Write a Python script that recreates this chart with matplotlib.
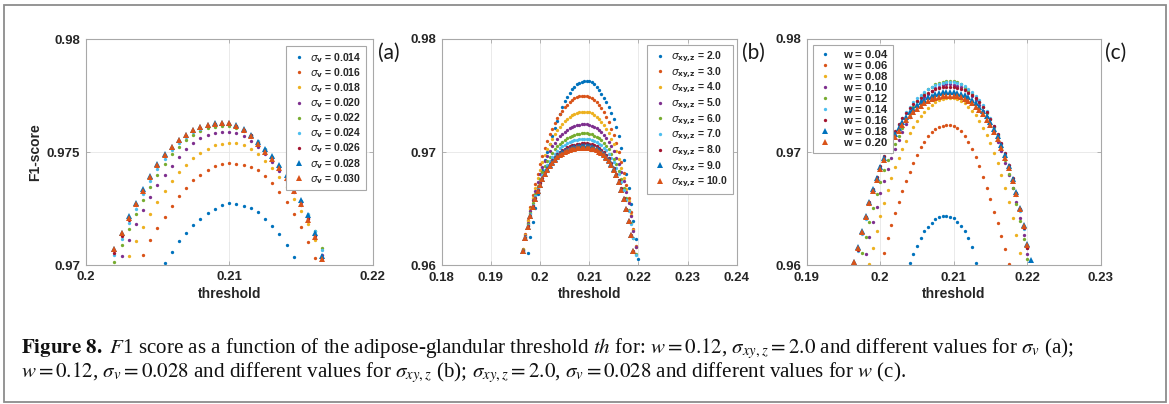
import numpy as np
import matplotlib
matplotlib.use("Agg")
import matplotlib.pyplot as plt
from matplotlib.patches import Rectangle

nan = float("nan")

# ---------------- data ----------------
# panel (a): w = 0.12, sigma_xy,z = 2.0, different sigma_v
threshold_a = [0.2020, 0.2025, 0.2030, 0.2035, 0.2040, 0.2045, 0.2050, 0.2055, 0.2060, 0.2065,
               0.2070, 0.2075, 0.2080, 0.2085, 0.2090, 0.2095, 0.2100, 0.2105, 0.2110, 0.2115,
               0.2120, 0.2125, 0.2130, 0.2135, 0.2140, 0.2145, 0.2150, 0.2155, 0.2160, 0.2165]
labels_a = ["0.014", "0.016", "0.018", "0.020", "0.022", "0.024", "0.026", "0.028", "0.030"]
f1_a_sv014 = [nan] * 7 + [0.97009, 0.97059, 0.97105, 0.97142, 0.97176, 0.97206, 0.97230, 0.97250, 0.97265,
                          0.97275, 0.97271, 0.97263, 0.97251, 0.97234, 0.97206, 0.97175, 0.97136, 0.97089,
                          0.97036] + [nan] * 4
f1_a_sv016 = [nan] * 4 + [0.97044, 0.97111, 0.97163, 0.97214, 0.97260, 0.97305, 0.97343, 0.97377, 0.97400,
                          0.97422, 0.97437, 0.97447, 0.97450, 0.97448, 0.97445, 0.97436, 0.97420, 0.97396,
                          0.97364, 0.97325, 0.97281, 0.97228, 0.97170, 0.97104, 0.97033] + [nan]
f1_a_sv018 = [nan] * 2 + [0.97040, 0.97108, 0.97170, 0.97228, 0.97280, 0.97328, 0.97372, 0.97410, 0.97445,
                          0.97474, 0.97497, 0.97516, 0.97530, 0.97538, 0.97541, 0.97540, 0.97532, 0.97516,
                          0.97492, 0.97462, 0.97428, 0.97388, 0.97345, 0.97294, 0.97240, 0.97180, 0.97110,
                          0.97030]
f1_a_sv020 = [nan] + [0.97040, 0.97112, 0.97180, 0.97244, 0.97302, 0.97354, 0.97400, 0.97440, 0.97478,
                      0.97512, 0.97540, 0.97562, 0.97577, 0.97586, 0.97589, 0.97589, 0.97584, 0.97570,
                      0.97548, 0.97522, 0.97490, 0.97455, 0.97415, 0.97372, 0.97322, 0.97268, 0.97205,
                      0.97132, 0.97045]
f1_a_sv022 = [0.97015, 0.97090, 0.97160, 0.97225, 0.97290, 0.97345, 0.97400, 0.97448, 0.97490, 0.97525,
              0.97553, 0.97577, 0.97594, 0.97605, 0.97612, 0.97615, 0.97614, 0.97608, 0.97595, 0.97574,
              0.97545, 0.97512, 0.97478, 0.97438, 0.97392, 0.97340, 0.97282, 0.97222, 0.97150, 0.97075]
f1_a_sv024 = [0.97045, 0.97115, 0.97185, 0.97250, 0.97315, 0.97372, 0.97425, 0.97470, 0.97508, 0.97540,
              0.97565, 0.97588, 0.97603, 0.97614, 0.97620, 0.97624, 0.97623, 0.97615, 0.97600, 0.97578,
              0.97548, 0.97515, 0.97480, 0.97440, 0.97395, 0.97340, 0.97285, 0.97225, 0.97150, 0.97065]
f1_a_sv026 = [0.97055, 0.97130, 0.97200, 0.97265, 0.97325, 0.97385, 0.97440, 0.97482, 0.97518, 0.97548,
              0.97572, 0.97593, 0.97607, 0.97617, 0.97623, 0.97626, 0.97625, 0.97616, 0.97598, 0.97574,
              0.97541, 0.97505, 0.97475, 0.97436, 0.97390, 0.97335, 0.97278, 0.97208, 0.97130, 0.97030]
f1_a_sv028 = [0.97070, 0.97140, 0.97215, 0.97275, 0.97335, 0.97395, 0.97448, 0.97490, 0.97524, 0.97555,
              0.97578, 0.97600, 0.97613, 0.97622, 0.97628, 0.97631, 0.97630, 0.97620, 0.97602, 0.97578,
              0.97545, 0.97512, 0.97482, 0.97445, 0.97400, 0.97345, 0.97290, 0.97220, 0.97140, 0.97040]
f1_a_sv030 = [0.97070, 0.97140, 0.97210, 0.97270, 0.97330, 0.97390, 0.97445, 0.97488, 0.97522, 0.97553,
              0.97576, 0.97598, 0.97611, 0.97620, 0.97626, 0.97630, 0.97628, 0.97615, 0.97596, 0.97570,
              0.97538, 0.97502, 0.97470, 0.97430, 0.97385, 0.97328, 0.97270, 0.97200, 0.97125, 0.97025]

# panels (b) and (c) share the threshold grid
threshold_bc = [0.1960, 0.1965, 0.1970, 0.1975, 0.1980, 0.1985, 0.1990, 0.1995, 0.2000, 0.2005,
                0.2010, 0.2015, 0.2020, 0.2025, 0.2030, 0.2035, 0.2040, 0.2045, 0.2050, 0.2055,
                0.2060, 0.2065, 0.2070, 0.2075, 0.2080, 0.2085, 0.2090, 0.2095, 0.2100, 0.2105,
                0.2110, 0.2115, 0.2120, 0.2125, 0.2130, 0.2135, 0.2140, 0.2145, 0.2150, 0.2155,
                0.2160, 0.2165, 0.2170, 0.2175, 0.2180, 0.2185, 0.2190, 0.2195, 0.2200, 0.2205]
# w = 0.12, sigma_xy,z = 2.0, sigma_v = 0.028 (common curve of the three panels)
f1_base = [nan, nan, nan, 0.9611, 0.9625, 0.9638, 0.9651, 0.9663, 0.9674, 0.9684, 0.9693, 0.9700,
           0.97070, 0.97140, 0.97215, 0.97275, 0.97335, 0.97395, 0.97448, 0.97490, 0.97524, 0.97555,
           0.97578, 0.97600, 0.97613, 0.97622, 0.97628, 0.97631, 0.97630, 0.97620, 0.97602, 0.97578,
           0.97545, 0.97512, 0.97482, 0.97445, 0.97400, 0.97345, 0.97290, 0.97220, 0.97140, 0.97040,
           0.9693, 0.9681, 0.9668, 0.9654, 0.9639, 0.9623, 0.9606, nan]

# panel (b): w = 0.12, sigma_v = 0.028, different sigma_xy,z
labels_b = ["2.0", "3.0", "4.0", "5.0", "6.0", "7.0", "8.0", "9.0", "10.0"]
f1_b_sxy20 = f1_base
f1_b_sxy30 = [nan, 0.96145, 0.96279, 0.96403, 0.96518, 0.96623, 0.96721, 0.96811, 0.96893, 0.96969,
              0.97038, 0.97101, 0.97158, 0.97209, 0.97256, 0.97298, 0.97335, 0.97368, 0.97397, 0.97421,
              0.97443, 0.97460, 0.97475, 0.97486, 0.97494, 0.97498, 0.97500,
              0.97498, 0.97491, 0.97480, 0.97465, 0.97445, 0.97419, 0.97389, 0.97353, 0.97312, 0.97264,
              0.97209, 0.97148, 0.97079, 0.97001, 0.96915, 0.96819, 0.96713, 0.96596, 0.96467, 0.96325,
              0.96170, nan, nan]
f1_b_sxy40 = [nan, 0.96140, 0.96269, 0.96388, 0.96496, 0.96595, 0.96686, 0.96768, 0.96843, 0.96910,
              0.96972, 0.97027, 0.97076, 0.97120, 0.97160, 0.97195, 0.97226, 0.97252, 0.97276, 0.97296,
              0.97313, 0.97327, 0.97338, 0.97347, 0.97353, 0.97357, 0.97358,
              0.97356, 0.97351, 0.97343, 0.97330, 0.97314, 0.97294, 0.97270, 0.97241, 0.97206, 0.97166,
              0.97120, 0.97068, 0.97007, 0.96939, 0.96862, 0.96775, 0.96678, 0.96569, 0.96448, 0.96314,
              0.96165, nan, nan]
f1_b_sxy50 = [nan, 0.96137, 0.96263, 0.96377, 0.96481, 0.96574, 0.96659, 0.96736, 0.96804, 0.96866,
              0.96921, 0.96970, 0.97013, 0.97051, 0.97085, 0.97115, 0.97140, 0.97162, 0.97181, 0.97197,
              0.97211, 0.97222, 0.97231, 0.97238, 0.97242, 0.97245, 0.97246,
              0.97245, 0.97241, 0.97234, 0.97225, 0.97212, 0.97196, 0.97177, 0.97153, 0.97124, 0.97091,
              0.97051, 0.97006, 0.96952, 0.96892, 0.96822, 0.96742, 0.96652, 0.96550, 0.96435, 0.96306,
              0.96161, nan, nan]
f1_b_sxy60 = [nan, 0.96133, 0.96253, 0.96363, 0.96462, 0.96551, 0.96631, 0.96703, 0.96767, 0.96825,
              0.96875, 0.96920, 0.96960, 0.96995, 0.97025, 0.97052, 0.97074, 0.97094, 0.97111, 0.97125,
              0.97136, 0.97146, 0.97153, 0.97159, 0.97163, 0.97165, 0.97166,
              0.97165, 0.97161, 0.97156, 0.97147, 0.97136, 0.97122, 0.97104, 0.97082, 0.97056, 0.97024,
              0.96987, 0.96943, 0.96892, 0.96832, 0.96764, 0.96685, 0.96595, 0.96492, 0.96376, 0.96245,
              0.96097, nan, nan]
f1_b_sxy70 = [nan, 0.96129, 0.96247, 0.96353, 0.96449, 0.96535, 0.96612, 0.96681, 0.96743, 0.96797,
              0.96846, 0.96888, 0.96926, 0.96958, 0.96987, 0.97011, 0.97033, 0.97051, 0.97066, 0.97079,
              0.97089, 0.97098, 0.97105, 0.97110, 0.97113, 0.97115, 0.97116,
              0.97115, 0.97112, 0.97107, 0.97099, 0.97089, 0.97076, 0.97060, 0.97040, 0.97015, 0.96986,
              0.96951, 0.96910, 0.96861, 0.96805, 0.96739, 0.96664, 0.96577, 0.96478, 0.96366, 0.96238,
              0.96095, nan, nan]
f1_b_sxy80 = [nan, 0.96126, 0.96241, 0.96345, 0.96438, 0.96521, 0.96596, 0.96663, 0.96723, 0.96775,
              0.96822, 0.96863, 0.96899, 0.96930, 0.96957, 0.96980, 0.97000, 0.97017, 0.97031, 0.97043,
              0.97053, 0.97061, 0.97067, 0.97072, 0.97075, 0.97077, 0.97078,
              0.97077, 0.97074, 0.97069, 0.97061, 0.97051, 0.97038, 0.97021, 0.97000, 0.96975, 0.96944,
              0.96907, 0.96863, 0.96811, 0.96750, 0.96679, 0.96596, 0.96501, 0.96392, 0.96268, 0.96126,
              nan, nan, nan]
f1_b_sxy90 = [nan, 0.96125, 0.96238, 0.96340, 0.96432, 0.96515, 0.96588, 0.96654, 0.96712, 0.96763,
              0.96809, 0.96848, 0.96883, 0.96913, 0.96939, 0.96962, 0.96980, 0.96997, 0.97010, 0.97021,
              0.97031, 0.97038, 0.97044, 0.97049, 0.97052, 0.97053, 0.97054,
              0.97053, 0.97050, 0.97045, 0.97038, 0.97029, 0.97016, 0.97000, 0.96980, 0.96956, 0.96927,
              0.96891, 0.96848, 0.96798, 0.96739, 0.96669, 0.96588, 0.96495, 0.96388, 0.96265, 0.96125,
              nan, nan, nan]
f1_b_sxy100 = [nan, 0.96126, 0.96239, 0.96341, 0.96433, 0.96515, 0.96588, 0.96653, 0.96710, 0.96761,
               0.96805, 0.96844, 0.96878, 0.96907, 0.96932, 0.96953, 0.96971, 0.96987, 0.96999, 0.97010,
               0.97019, 0.97026, 0.97031, 0.97035, 0.97038, 0.97039, 0.97040,
               0.97039, 0.97037, 0.97032, 0.97026, 0.97017, 0.97005, 0.96990, 0.96971, 0.96948, 0.96920,
               0.96885, 0.96844, 0.96795, 0.96736, 0.96668, 0.96588, 0.96495, 0.96388, 0.96266, 0.96126,
               nan, nan, nan]

# panel (c): sigma_xy,z = 2.0, sigma_v = 0.028, different w
labels_c = ["0.04", "0.06", "0.08", "0.10", "0.12", "0.14", "0.16", "0.18", "0.20"]
f1_c_w004 = [nan] * 16 + [0.9602, 0.9610, 0.9617, 0.9624, 0.9630, 0.9634, 0.96377, 0.96406, 0.96424,
                          0.96436, 0.96439, 0.96430, 0.96415, 0.96386, 0.96350, 0.96303, 0.96239, 0.96160,
                          0.96020] + [nan] * 15
f1_c_w006 = [nan] * 9 + [0.9611, 0.9624, 0.9636, 0.9646, 0.96563, 0.96660, 0.96748, 0.96828, 0.96907,
                         0.96975, 0.97043, 0.97093, 0.97143, 0.97181, 0.97208, 0.97225, 0.97234, 0.97240,
                         0.97240, 0.97234, 0.97216, 0.97187, 0.97143, 0.97093, 0.97028, 0.96960, 0.96878,
                         0.96784, 0.96680, 0.96583, 0.96474, 0.96375, 0.96262, 0.96142, 0.96015] + [nan] * 6
f1_c_w008 = [nan] * 5 + [0.96015, 0.96155, 0.96299, 0.96432, 0.96555, 0.96667, 0.96771, 0.96866, 0.96952,
                         0.97030, 0.97102, 0.97166, 0.97223, 0.97274, 0.97318, 0.97357, 0.97390, 0.97418,
                         0.97440, 0.97458, 0.97470, 0.97477, 0.97480, 0.97477, 0.97468, 0.97452, 0.97430,
                         0.97402, 0.97366, 0.97324, 0.97274, 0.97217, 0.97152, 0.97078, 0.96995, 0.96902,
                         0.96799, 0.96685, 0.96560, 0.96422, 0.96271, 0.96106] + [nan] * 3
f1_c_w010 = [nan] * 4 + [0.96096, 0.96246, 0.96386, 0.96516, 0.96636, 0.96747, 0.96850, 0.96944, 0.97031,
                         0.97110, 0.97182, 0.97248, 0.97307, 0.97360, 0.97407, 0.97449, 0.97485, 0.97516,
                         0.97542, 0.97563, 0.97579, 0.97591, 0.97598, 0.97600, 0.97597, 0.97589, 0.97575,
                         0.97556, 0.97530, 0.97499, 0.97462, 0.97418, 0.97368, 0.97311, 0.97247, 0.97174,
                         0.97094, 0.97006, 0.96908, 0.96801, 0.96684, 0.96557, 0.96418, 0.96268,
                         0.96104] + [nan]
f1_c_w012 = f1_base
f1_c_w014 = [nan, nan, 0.96127, 0.96275, 0.96412, 0.96538, 0.96655, 0.96763, 0.96862, 0.96953, 0.97036,
             0.97112, 0.97181, 0.97244, 0.97301, 0.97352, 0.97398, 0.97439, 0.97475, 0.97506, 0.97534,
             0.97557, 0.97577, 0.97592, 0.97605, 0.97613, 0.97618, 0.97620,
             0.97618, 0.97610, 0.97598, 0.97581, 0.97559, 0.97531, 0.97498, 0.97458, 0.97413, 0.97360,
             0.97300, 0.97232, 0.97155, 0.97070, 0.96974, 0.96868, 0.96751, 0.96621, 0.96478, 0.96321,
             0.96149, nan]
f1_c_w016 = [nan, nan, 0.96132, 0.96286, 0.96427, 0.96556, 0.96674, 0.96781, 0.96880, 0.96968, 0.97049,
             0.97121, 0.97187, 0.97245, 0.97298, 0.97345, 0.97386, 0.97422, 0.97454, 0.97482, 0.97506,
             0.97526, 0.97542, 0.97556, 0.97566, 0.97573, 0.97578, 0.97579,
             0.97577, 0.97571, 0.97561, 0.97546, 0.97527, 0.97504, 0.97475, 0.97440, 0.97399, 0.97352,
             0.97297, 0.97234, 0.97162, 0.97081, 0.96989, 0.96885, 0.96769, 0.96639, 0.96495, 0.96334,
             0.96156, nan]
f1_c_w018 = [nan, 0.96025, 0.96159, 0.96304, 0.96438, 0.96561, 0.96673, 0.96775, 0.96868, 0.96952, 0.97029,
             0.97098, 0.97160, 0.97217, 0.97266, 0.97311, 0.97351, 0.97385, 0.97416, 0.97442, 0.97465,
             0.97484, 0.97500, 0.97513, 0.97523, 0.97530, 0.97534, 0.97535,
             0.97533, 0.97527, 0.97518, 0.97504, 0.97486, 0.97463, 0.97436, 0.97403, 0.97364, 0.97318,
             0.97266, 0.97207, 0.97139, 0.97061, 0.96974, 0.96876, 0.96766, 0.96644, 0.96507, 0.96355,
             0.96186, 0.96045]
f1_c_w020 = [nan, 0.96025, 0.96155, 0.96297, 0.96428, 0.96548, 0.96658, 0.96758, 0.96848, 0.96931, 0.97006,
             0.97073, 0.97134, 0.97189, 0.97238, 0.97281, 0.97320, 0.97354, 0.97384, 0.97409, 0.97432,
             0.97450, 0.97466, 0.97478, 0.97488, 0.97495, 0.97499, 0.97500,
             0.97498, 0.97493, 0.97483, 0.97470, 0.97452, 0.97430, 0.97403, 0.97371, 0.97333, 0.97288,
             0.97238, 0.97179, 0.97113, 0.97037, 0.96952, 0.96856, 0.96749, 0.96629, 0.96495, 0.96347,
             0.96182, nan]

xticks_a = [0.20, 0.21, 0.22]
xticklabels_a = ["0.2", "0.21", "0.22"]
yticks_a = [0.970, 0.975, 0.980]
yticklabels_a = ["0.97", "0.975", "0.98"]
xticks_b = [0.18, 0.19, 0.20, 0.21, 0.22, 0.23, 0.24]
xticklabels_b = ["0.18", "0.19", "0.2", "0.21", "0.22", "0.23", "0.24"]
xticks_c = [0.19, 0.20, 0.21, 0.22, 0.23]
xticklabels_c = ["0.19", "0.2", "0.21", "0.22", "0.23"]
yticks_bc = [0.96, 0.97, 0.98]
yticklabels_bc = ["0.96", "0.97", "0.98"]

# ---------------- style ----------------
plt.rcParams["font.family"] = ["Liberation Sans", "DejaVu Sans"]
plt.rcParams["mathtext.fontset"] = "dejavusans"

COLORS = ["#0072BD", "#D95319", "#EDB120", "#7E2F8E", "#77AC30",
          "#4DBEEE", "#A2142F", "#0072BD", "#D95319"]
MARKERS = ["o"] * 7 + ["^"] * 2
BOX = "#a8a8a8"
TXT = "#262626"
GRID = "#e6e6e6"

W, H = 1169, 404
fig = plt.figure(figsize=(W / 100, H / 100), dpi=100)
fig.patch.set_facecolor("white")


def px_axes(left, top, right, bottom):
    return fig.add_axes([left / W, 1 - bottom / H, (right - left) / W, (bottom - top) / H])


def style(ax, xlim, ylim, xt, xtl, yt, ytl):
    ax.set_xlim(xlim)
    ax.set_ylim(ylim)
    ax.set_xticks(xt)
    ax.set_xticklabels(xtl)
    ax.set_yticks(yt)
    ax.set_yticklabels(ytl)
    for s in ax.spines.values():
        s.set_color(BOX)
        s.set_linewidth(0.8)
    ax.tick_params(direction="in", top=True, right=True, length=3, width=0.6,
                   color=BOX, labelsize=9.5, labelcolor=TXT)
    ax.tick_params(axis="x", pad=4.5)
    ax.tick_params(axis="y", pad=4)
    for lab in ax.get_xticklabels() + ax.get_yticklabels():
        lab.set_fontweight("bold")
    ax.grid(True, color=GRID, lw=0.6)
    ax.set_axisbelow(True)
    ax.set_xlabel("threshold", fontsize=10, fontweight="bold", color=TXT, labelpad=2.5)


def draw(ax, x, series, labels):
    for i, (y, lab) in enumerate(zip(series, labels)):
        ms = 2.4 if MARKERS[i] == "o" else 3.8
        ax.plot(x, np.array(y, dtype=float), linestyle="none", marker=MARKERS[i], ms=ms,
                mew=0, color=COLORS[i], label=lab, clip_on=True)


def legend(ax, loc, anchor, spacing, size, hlen, textpad):
    leg = ax.legend(loc=loc, bbox_to_anchor=anchor, labelspacing=spacing,
                    handlelength=hlen, handletextpad=textpad, borderpad=0.45, borderaxespad=0,
                    fancybox=False, framealpha=1, edgecolor=BOX, numpoints=1,
                    prop={"weight": "bold", "size": size})
    leg.get_frame().set_linewidth(0.8)
    for t in leg.get_texts():
        t.set_color(TXT)
    return leg


# panel (a)
ax_a = px_axes(85.7, 39.3, 372.7, 265.0)
series_a = [f1_a_sv014, f1_a_sv016, f1_a_sv018, f1_a_sv020, f1_a_sv022,
            f1_a_sv024, f1_a_sv026, f1_a_sv028, f1_a_sv030]
draw(ax_a, threshold_a, series_a, [r"$\sigma_{\mathbf{v}}$ = " + s for s in labels_a])
style(ax_a, (0.20, 0.22), (0.97, 0.98), xticks_a, xticklabels_a, yticks_a, yticklabels_a)
ax_a.set_ylabel("F1-score", fontsize=10, fontweight="bold", color=TXT, labelpad=3)
legend(ax_a, "upper right", (0.977, 0.970), 0.13, 7.5, 1.6, 0.3)

# panel (b)
ax_b = px_axes(441.7, 39.0, 736.7, 265.3)
series_b = [f1_b_sxy20, f1_b_sxy30, f1_b_sxy40, f1_b_sxy50, f1_b_sxy60,
            f1_b_sxy70, f1_b_sxy80, f1_b_sxy90, f1_b_sxy100]
draw(ax_b, threshold_bc, series_b, [r"$\sigma_{\mathbf{xy{,}z}}$ = " + s for s in labels_b])
style(ax_b, (0.18, 0.24), (0.96, 0.98), xticks_b, xticklabels_b, yticks_bc, yticklabels_bc)
legend(ax_b, "upper right", (0.986, 0.973), 0.12, 7.5, 1.6, 0.3)

# panel (c)
ax_c = px_axes(806.7, 39.0, 1100.7, 265.3)
series_c = [f1_c_w004, f1_c_w006, f1_c_w008, f1_c_w010, f1_c_w012,
            f1_c_w014, f1_c_w016, f1_c_w018, f1_c_w020]
draw(ax_c, threshold_bc, series_c, ["w = " + s for s in labels_c])
style(ax_c, (0.19, 0.23), (0.96, 0.98), xticks_c, xticklabels_c, yticks_bc, yticklabels_bc)
legend(ax_c, "upper left", (0.0215, 0.973), 0.08, 8.2, 1.2, 1.0)

# panel tags
for tag, xp in (("(a)", 378), ("(b)", 742), ("(c)", 1105)):
    fig.text(xp / W, 1 - 53 / H, tag, fontsize=15, family=["Lato", "DejaVu Sans"],
             ha="left", va="center", color="#1a1a1a")

# caption
line1 = (r"$\mathbf{Figure\ 8.}$ $F$1 score as a function of the adipose-glandular threshold "
         r"$th$ for: $w=0.12$, $\sigma_{xy,z}=2.0$ and different values for $\sigma_v$ (a);")
line2 = (r"$w=0.12$, $\sigma_v=0.028$ and different values for $\sigma_{xy,z}$ (b); "
         r"$\sigma_{xy,z}=2.0$, $\sigma_v=0.028$ and different values for $w$ (c).")
plt.rcParams["mathtext.fontset"] = "stix"
fs0 = 11
t1 = fig.text(21 / W, 1 - 353 / H, line1, fontsize=fs0, family=["Liberation Serif", "DejaVu Serif"],
              ha="left", va="baseline", color="#111111")
t2 = fig.text(21 / W, 1 - 377 / H, line2, fontsize=fs0, family=["Liberation Serif", "DejaVu Serif"],
              ha="left", va="baseline", color="#111111")
fig.canvas.draw()
w2 = t2.get_window_extent().width
fs = fs0 * 886.0 / w2
t1.set_fontsize(fs)
t2.set_fontsize(fs)

# outer frame
fig.patches.append(Rectangle((3.5 / W, 2.5 / H), (1165.5 - 3.5) / W, (401.5 - 4.5) / H,
                             transform=fig.transFigure, fill=False, edgecolor="#8c8c8c", lw=1.3))

fig.savefig("out.png", dpi=100, facecolor="white")
